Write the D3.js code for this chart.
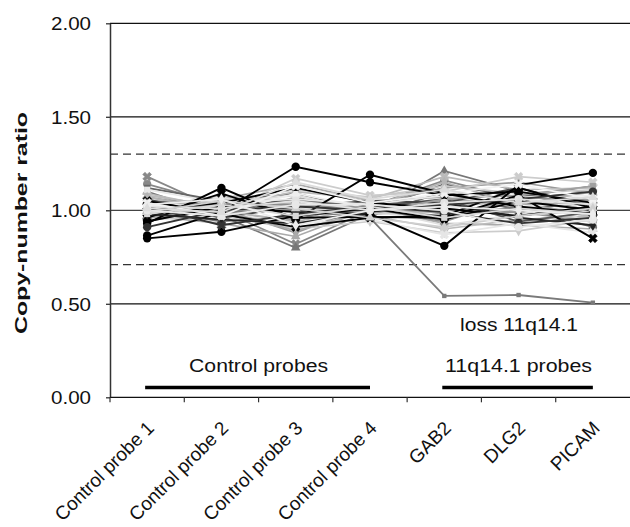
<!DOCTYPE html>
<html><head><meta charset="utf-8">
<script src="https://cdn.jsdelivr.net/npm/d3@7"></script>
<style>body{margin:0;background:#fff}svg{display:block}text{font-family:"Liberation Sans",Arial,sans-serif;fill:#111}</style>
</head><body><svg id="c" width="630" height="527"></svg>
<script>
const categories = ["Control probe 1","Control probe 2","Control probe 3","Control probe 4","GAB2","DLG2","PICAM"];
const yTicks = [0, 0.5, 1.0, 1.5, 2.0];
const thresholds = [1.3, 0.71];
const groupLabels = ["Control probes", "11q14.1 probes"];
const groupSpans = [["Control probe 1","Control probe 4"],["GAB2","PICAM"]];
const annotation = "loss 11q14.1";
const lossSample = [1.01, 0.99, 1.00, 0.96, 0.542, 0.547, 0.506];
const seriesValues = [
  [1.18, 1.00, 0.82, 1.00, 1.06, 1.04, 1.03],
  [1.14, 1.03, 1.05, 1.02, 1.16, 1.06, 1.10],
  [1.10, 0.97, 0.80, 0.98, 1.21, 1.10, 0.99],
  [1.12, 1.05, 1.09, 1.00, 1.14, 1.07, 1.13],
  [1.07, 1.01, 0.88, 1.03, 1.12, 1.15, 1.09],
  [1.03, 0.96, 1.07, 0.98, 1.00, 0.99, 0.94],
  [0.99, 1.06, 1.14, 1.05, 1.07, 1.01, 1.06],
  [0.97, 0.93, 0.86, 1.01, 0.93, 0.92, 0.90],
  [1.08, 1.02, 1.10, 1.06, 1.18, 1.11, 1.12],
  [1.04, 0.99, 1.17, 1.08, 1.10, 1.18, 1.15],
  [1.01, 1.08, 1.04, 0.97, 0.90, 0.95, 0.97],
  [0.95, 0.97, 0.90, 0.94, 0.88, 0.89, 0.95],
  [1.06, 1.00, 1.01, 1.03, 1.05, 1.03, 1.08],
  [1.00, 1.04, 1.08, 0.99, 0.95, 1.08, 0.93],
  [0.98, 1.07, 0.99, 1.01, 0.92, 0.98, 1.04],
  [1.09, 1.01, 1.03, 0.99, 1.02, 1.05, 0.96],
  [1.02, 0.98, 0.95, 1.04, 0.98, 0.99, 1.07],
  [1.05, 1.03, 1.00, 0.97, 1.10, 1.00, 1.05],
  [0.97, 1.01, 1.06, 1.02, 1.06, 0.94, 0.99],
  [1.00, 0.94, 0.97, 1.00, 0.97, 1.02, 0.91],
  [1.03, 1.05, 1.11, 1.07, 1.13, 1.09, 1.11],
  [0.99, 0.99, 0.93, 0.95, 0.87, 0.93, 0.88],
  [1.06, 0.96, 1.02, 1.05, 1.04, 1.12, 1.02],
  [1.01, 1.02, 1.04, 0.98, 1.01, 0.97, 1.00],
  [0.96, 1.00, 0.89, 1.00, 0.99, 1.04, 0.97],
  [1.11, 1.04, 1.06, 1.03, 1.08, 1.02, 1.04],
  [1.03, 0.98, 1.09, 1.01, 1.03, 1.07, 1.08],
  [1.07, 1.00, 0.94, 1.02, 1.15, 1.03, 1.10],
  [0.94, 1.02, 1.00, 0.99, 1.06, 1.08, 1.13],
  [0.97, 1.04, 1.03, 1.01, 0.94, 1.07, 1.05],
  [0.85, 0.885, 0.97, 1.01, 0.95, 1.05, 1.00],
  [0.865, 0.99, 1.233, 1.15, 1.08, 1.10, 1.04],
  [0.93, 1.12, 0.95, 1.19, 1.09, 1.02, 0.98],
  [0.96, 1.09, 0.96, 0.965, 0.96, 1.08, 0.85],
  [0.94, 1.02, 0.99, 0.98, 0.81, 1.135, 1.20],
  [1.00, 1.04, 1.12, 1.04, 1.01, 0.97, 1.02],
  [1.05, 0.98, 0.91, 0.96, 0.97, 1.12, 1.01],
  [0.98, 0.95, 0.93, 0.99, 1.04, 0.96, 0.92],
  [0.91, 1.00, 1.02, 1.00, 1.03, 1.06, 1.10],
  [1.02, 0.92, 0.98, 1.02, 0.99, 0.93, 0.96],
  [1.02, 1.01, 1.05, 1.00, 1.04, 1.06, 1.03],
  [0.98, 1.03, 0.97, 1.02, 0.96, 1.01, 0.98],
  [1.04, 0.97, 1.13, 1.04, 1.09, 1.14, 1.06],
  [0.99, 1.05, 1.01, 0.96, 0.91, 0.97, 1.01],
  [1.00, 0.97, 1.03, 1.03, 1.00, 0.91, 0.95],
  [1.03, 1.06, 0.92, 1.00, 1.02, 1.00, 0.98],
  [1.01, 0.99, 1.15, 1.06, 1.11, 1.04, 1.07]
];
// styles (kept separate from values)
const seriesColors = ["#888","#888","#777","#666","#999","#999","#aaa","#aaa","#bbb","#ccc","#bbb","#ccc","#ddd","#ddd","#e0e0e0","#bbb","#999","#666","#555","#777","#c8c8c8","#e6e6e6","#444","#d0d0d0","#aaa","#e8e8e8","#eee","#b5b5b5","#a0a0a0","#8c8c8c",
  "#000","#000","#000","#000","#000","#000","#000","#222","#333","#333",
  "#e2e2e2","#d8d8d8","#f2f2f2","#cfcfcf","#e8e8e8","#ececec","#dcdcdc"];
const seriesMarkers = ["x","circle","triangle","square","diamond","circle","square","triangle","x","x","circle","diamond","square","triangle","circle","square","x","diamond","triangle","circle","diamond","x","square","circle","diamond","square","triangle","diamond","square","x",
  "circle","circle","circle","x","circle","square","x","diamond","circle","x",
  "circle","square","x","triangle","circle","diamond","triangle"];

const svg = d3.select("#c");
const x = d3.scaleBand().domain(categories).range([110, 630]);
const y = d3.scaleLinear().domain([0, 2]).range([397.3, 23.3]);
const cx = d => x(d) + x.bandwidth() / 2;

// gridlines
svg.append("g").selectAll("line").data(yTicks.filter(t => t > 0)).join("line")
  .attr("x1", 110).attr("x2", 630).attr("y1", d => y(d)).attr("y2", d => y(d))
  .attr("stroke", (d) => d === 1 ? "#444" : "#111").attr("stroke-width", 1.3);
// thresholds
svg.append("g").selectAll("line").data(thresholds).join("line")
  .attr("x1", 110).attr("x2", 630).attr("y1", d => y(d)).attr("y2", d => y(d))
  .attr("stroke", "#333").attr("stroke-width", 1.3).attr("stroke-dasharray", "8,5");

// y axis
const ya = svg.append("g").attr("transform", "translate(110,0)")
  .call(d3.axisLeft(y).tickValues(yTicks).tickFormat(d3.format(".2f")).tickSize(4).tickSizeOuter(0));
ya.select(".domain").attr("stroke", "#333").attr("stroke-width", 1.5);
ya.selectAll(".tick line").attr("stroke", "#333").attr("stroke-width", 1.3);
ya.selectAll(".tick text").attr("font-size", 18).attr("x", -19).attr("dy", "0.36em")
  .attr("textLength", 40).attr("lengthAdjust", "spacingAndGlyphs").style("fill", "#111");

// x axis
const xa = svg.append("g").attr("transform", "translate(0,397.3)");
xa.append("line").attr("x1", 110).attr("x2", 630).attr("stroke", "#111").attr("stroke-width", 1.3);
xa.selectAll(".xt").data(categories).join("line").attr("class", "xt")
  .attr("x1", d => x(d)).attr("x2", d => x(d)).attr("y1", 0).attr("y2", 5)
  .attr("stroke", "#333").attr("stroke-width", 1.2);
xa.selectAll(".xl").data(categories).join("text").attr("class", "xl")
  .attr("text-anchor", "end").attr("font-size", 19)
  .attr("transform", d => `translate(${cx(d) + 8},${32}) rotate(-45)`)
  .text(d => d);

// y label
svg.append("text").attr("transform", "translate(27,223) rotate(-90)")
  .attr("text-anchor", "middle").attr("font-size", 16).attr("font-weight", "bold")
  .attr("textLength", 222).attr("lengthAdjust", "spacingAndGlyphs")
  .text("Copy-number ratio");

// series lines
const line = d3.line().x((d, i) => cx(categories[i])).y(d => y(d));
function marker(g, type, color, vals, scale) {
  const pts = g.selectAll(".m").data(vals).join("path").attr("class", "m")
    .attr("fill", color).attr("stroke", color).attr("stroke-width", type === "x" ? 0.6 : 0);
  const sym = {circle: d3.symbolCircle, square: d3.symbolSquare, triangle: d3.symbolTriangle, diamond: d3.symbolDiamond, x: d3.symbolCross}[type];
  const size = {circle: 55, square: 38, triangle: 40, diamond: 36, x: 48}[type] * scale;
  pts.attr("d", d3.symbol().type(sym).size(size)())
    .attr("transform", (d, i) => `translate(${cx(categories[i])},${y(d)})` + (type === "x" ? " rotate(45)" : ""));
}
const sg = svg.append("g");
seriesValues.forEach((vals, k) => {
  if (k === 30) {
    const gl = sg.append("g");
    gl.append("path").datum(lossSample).attr("d", line).attr("fill", "none").attr("stroke", "#7a7a7a").attr("stroke-width", 1.8);
    marker(gl, "square", "#7a7a7a", lossSample, 0.5);
  }
  const g = sg.append("g");
  const dark = seriesColors[k] < "#5";
  g.append("path").datum(vals).attr("d", line).attr("fill", "none")
    .attr("stroke", seriesColors[k]).attr("stroke-width", dark ? 1.9 : 1.7);
  marker(g, seriesMarkers[k], seriesColors[k], vals, 1);
});

// annotation
svg.append("text").attr("x", 519).attr("y", 331).attr("text-anchor", "middle").attr("font-size", 18)
  .attr("textLength", 118).attr("lengthAdjust", "spacingAndGlyphs").text(annotation);
// group labels & bars
const groupWidths = [139, 147];
groupSpans.forEach((s, i) => {
  const x1 = cx(s[0]), x2 = cx(s[1]);
  svg.append("line").attr("x1", x1 - 2).attr("x2", x2).attr("y1", 387.5).attr("y2", 387.5)
    .attr("stroke", "#000").attr("stroke-width", 3.6);
  svg.append("text").attr("x", (x1 + x2) / 2).attr("y", 372).attr("text-anchor", "middle").attr("font-size", 18)
    .attr("textLength", groupWidths[i]).attr("lengthAdjust", "spacingAndGlyphs").text(groupLabels[i]);
});
</script></body></html>
